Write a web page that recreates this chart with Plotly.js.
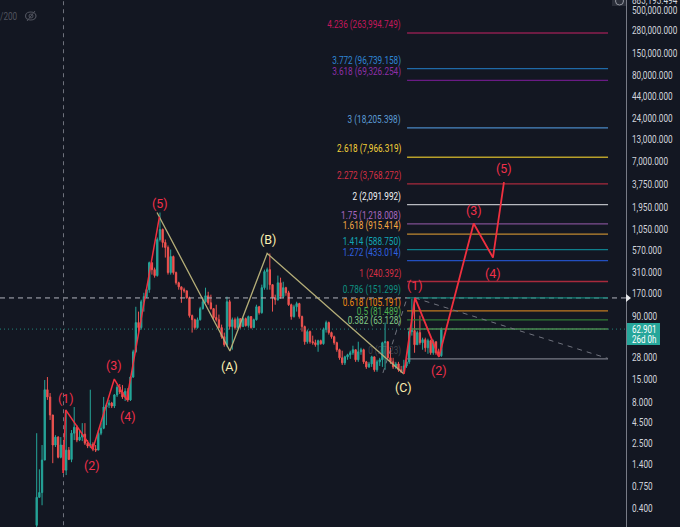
<!DOCTYPE html>
<html><head><meta charset="utf-8">
<script src="https://cdn.plot.ly/plotly-3.0.1.min.js"></script>
<style>html,body{margin:0;padding:0;background:#131722;overflow:hidden}#c{width:680px;height:527px}</style>
</head><body><div id="c"></div>
<script>
// Candles: closing, high and low prices
const closes=[.55,.63,1.57,11.4,9.3,5.6,2.4,3,1.7,2.4,1.18,2.08,1.6,3.35,3.96,2.76,3,3.26,2.53,2.33,2.46,2.14,2.08,3.35,3.85,7,7.4,7.85,7.2,9.86,12.2,10.7,9.3,10.9,8.56,16.3,33.2,75.5,65.6,136,157,191,409,336,284,785,1041,722,627,309,486,309,232,207,191,185,152,92,82,65.6,82,112,136,161,132,112,87,82,65.6,50.8,40.5,136,67.5,82,65.6,84.5,67.5,84.5,69.4,89.5,65.6,82,118,100,202,318,336,220,152,144,232,157,202,175,125,89.5,118,129,89.5,67.5,44.1,58.6,44.1,42.9,40.5,45.4,41.7,62,75.5,57,50.8,42.9,35.2,28,24.3,28.8,30.5,32.3,35.2,26.5,33.2,35.2,25,21.7,23.6,28.8,20,25,26.5,42.9,44.1,28,25,21.7,23.6,20,18.9,22.3,25,58.6,60.3,40.5,57,42.9,46.7,37.2,45.4,32.3,44.1,32.3,29.7,62.901];
const highs=[3.35,1.21,2.4,15,16.3,10.4,5.6,3.17,3.08,3,2.76,6.45,2.27,3.66,7,4.2,3.66,4.45,4.45,2.76,11.4,2.6,2.4,3.66,4.45,9.3,7.85,8.56,8.1,10.1,13,13.4,13,11.9,11.9,16.8,35.2,118,103,144,175,202,421,409,356,830,1680,1070,785,663,592,500,318,239,207,202,185,157,94.7,84.5,87,118,152,202,180,166,112,125,94.7,71.4,57,157,144,87,87,89.5,84.5,87,87,92,87,84.5,125,121,220,336,356,530,220,166,284,268,239,207,185,129,125,136,132,92,69.4,62,60.3,52.3,46.7,46.7,46.7,65.6,79.9,77.7,58.6,52.3,44.1,36.2,34.2,29.7,31.4,34.2,39.4,35.2,44.1,37.2,36.2,25.7,25,29.7,28,26.5,28,44.1,75.5,40.5,37.2,28,25,25,22.3,26.5,26.5,65.6,148,152,60.3,92,49.4,49.4,48,46.7,46.7,44.1,36.2,65.6];
const lows=[.22,.55,.44,1.57,8.56,4.86,1.44,2.27,1.65,1.65,1.09,1.03,1.57,1.48,2.76,2.6,2.68,2.68,2.4,2.2,2.2,2.02,1.97,2.08,3.17,3.75,4.2,6.8,6.8,6.8,9.3,10.1,8.8,8.3,8.1,8.3,15.9,32.3,53.8,62,103,152,175,292,268,276,742,627,472,292,292,292,220,191,132,175,148,87,57,62,63.8,79.9,109,132,125,109,82,77.7,63.8,48,38.3,38.3,62,35.2,62,63.8,63.8,67.5,67.5,65.6,63.8,65.6,79.9,94.7,97,191,191,191,103,125,140,148,152,161,121,82,87,103,84.5,58.6,40.5,41.7,41.7,40.5,38.3,33.2,40.5,40.5,57,53.8,48,40.5,33.2,26.5,22.9,22.9,26.5,27.2,30.5,25,25,30.5,23.6,20.5,21.1,21.7,18.9,18.9,22.3,21.7,20,26.5,23.6,20.5,20.5,18.9,18.3,18.3,21.1,23.6,52.3,32.3,40.5,40.5,35.2,33.2,31.4,30.5,30.5,30.5,28.8,28.8];
const firstOpen=.25;
const barIndex=closes.map((_,i)=>i);
const opens=closes.map((_,i)=>i?closes[i-1]:firstOpen);

// Axis tick values and labels
const tickValues=[500000,280000,150000,80000,44000,24000,13000,7000,3750,1950,1050,570,310,170,90,28,15,8,4.5,2.5,1.4,.75,.4];
const tickLabels=["500,000.000","280,000.000","150,000.000","80,000.000","44,000.000","24,000.000","13,000.000","7,000.000","3,750.000","1,950.000","1,050.000","570.000","310.000","170.000","90.000","28.000","15.000","8.000","4.500","2.500","1.400","0.750","0.400"];

// Fibonacci levels
const fibRatios=["4.236","3.772","3.618","3","2.618","2.272","2","1.75","1.618","1.414","1.272","1","0.786","0.618","0.5","0.382","0"];
const fibPrices=[263994.749,96739.158,69326.254,18205.398,7966.319,3768.272,2091.992,1218.008,915.414,588.75,433.014,240.392,151.299,105.191,81.489,63.128,27.23];
const fibPriceText=["263,994.749","96,739.158","69,326.254","18,205.398","7,966.319","3,768.272","2,091.992","1,218.008","915.414","588.750","433.014","240.392","151.299","105.191","81.489","63.128","27.23"];
const fibLabelColors=["#c2185b","#2f86d6","#8e2fa8","#5b9bd5","#f5d33a","#d62f45","#f2f3f5","#a868c0","#f5a742","#12a5b5","#2f62e0","#d62f45","#0f8f80","#f08a10","#4caf50","#81c784","rgba(120,123,134,.45)"];
const fibLineColors=["#8c1f4f","#1f6aa8","#6a1b85","#4a88c4","#b8a02a","#a82a3c","#b8bac0","#7f4f92","#c08a30","#0f7f8c","#234fc0","#a82a3c","#0f7f74","#c07a20","#2f7a34","#4a8a50","#787b86"];
const fibStart=138.2, fibEnd=213.2;

// Wave paths
const wave1X=[9.81,10.82,20.9,28.96,33.58,45.82];
const wave1Y=[1.09,6.45,2.13,15.4,8.56,1500];
const abcX=[44.9,72.1,86,137.05];
const abcY=[1680,34,530,17.8];
const projX=[137.05,141.15,150.1,163.06,170.26,174.37];
const projY=[17.8,151.3,28.8,1232,472,3950];
const dashTrendX=[141.15,213.2];
const dashTrendY=[151.3,27.5];
const dashRiseX=[129.2,138.2];
const dashRiseY=[18.3,151.3];

// Wave labels
const waveText=["(1)","(2)","(3)","(4)","(5)","(A)","(B)","(C)","(1)","(2)","(3)","(4)","(5)"];
const waveLabelX=[10.93,20.8,28.84,34.07,46,72.1,86.3,137.05,141.15,150.1,163.2,170.26,174.37];
const waveLabelY=[9.03,1.36,22.3,5.4,2170,21.7,785,12.2,213,19.4,1780,300,5830];
const waveIsYellow=[0,0,0,0,0,1,1,1,0,0,0,0,0];

const lastPrice=62.901, crossPrice=151.3, crossBar=10;
const xRange=[-13.69,219.9];
const yRange=[-0.6227,5.8254];

const FONT="Roboto, sans-serif";
const UP="#26a69a", DOWN="#ef5350", RED="#f0303f", YEL="#b5ae78";
const W=626,H=527;
const px=x=>x/W, py=y=>1-y/H;

const traces=[{
  type:"candlestick",x:barIndex,open:opens,high:highs,low:lows,close:closes,
  increasing:{line:{color:UP,width:1},fillcolor:UP},
  decreasing:{line:{color:DOWN,width:1},fillcolor:DOWN},
  whiskerwidth:0,hoverinfo:"skip"
}];
const addLine=(x,y,color,width,dash)=>traces.push({type:"scatter",mode:"lines",x,y,line:{color,width,dash:dash||"solid"},hoverinfo:"skip"});
addLine(xRange,[lastPrice,lastPrice],"rgba(38,166,154,.75)",1,"1px,3px");
addLine(xRange,[crossPrice,crossPrice],"#b2b5be",1,"5px,4px");
addLine([crossBar,crossBar],[.2,800000],"#70737e",1,"4px,4px");
fibPrices.forEach((p,i)=>addLine([fibStart,fibEnd],[p,p],fibLineColors[i],1.3));
addLine(dashTrendX,dashTrendY,"#70737e",1,"5px,5px");
addLine(dashRiseX,dashRiseY,"#70737e",1,"5px,5px");
addLine(abcX,abcY,YEL,1.3);
addLine(wave1X,wave1Y,RED,1.5);
addLine(projX,projY,RED,1.8);

const annotations=[];
fibPrices.forEach((p,i)=>annotations.push({
  x:136.7,y:Math.log10(p),xref:"x",yref:"y",yshift:8,xanchor:"right",yanchor:"middle",showarrow:false,
  text:fibRatios[i]+" ("+fibPriceText[i]+")",font:{family:FONT,size:10,color:fibLabelColors[i]}
}));
waveText.forEach((t,i)=>annotations.push({
  x:waveLabelX[i],y:Math.log10(waveLabelY[i]),xref:"x",yref:"y",xanchor:"center",yanchor:"middle",showarrow:false,
  text:t,font:{family:FONT,size:12.5,color:waveIsYellow[i]?"#fdf0b0":"#f0304a"}
}));
const pxText=(x,y,text,size,color,anchor)=>annotations.push({
  x:px(x),y:py(y),xref:"paper",yref:"paper",xanchor:anchor||"left",yanchor:"middle",showarrow:false,text,
  font:{family:FONT,size,color}
});
pxText(630,329,"62.901",10,"#ffffff");
pxText(630,339,"26d 0h",10,"#ffffff");
pxText(630,0,"883,193.494",10,"#d1d4dc");
pxText(-2,16,"/200",10,"#50535e");

const shapes=[
  {type:"rect",xref:"paper",yref:"paper",x0:px(627),x1:px(660),y0:py(345),y1:py(323),fillcolor:UP,line:{width:0},layer:"below"},
  {type:"path",xref:"paper",yref:"paper",path:`M ${px(626)} ${py(294)} L ${px(631)} ${py(298)} L ${px(626)} ${py(302)} Z`,fillcolor:"#e8e9ec",line:{width:0}},
  {type:"rect",xref:"paper",yref:"paper",x0:px(612),x1:px(626),y0:py(6),y1:py(0),fillcolor:"#2a2e39",line:{width:0}},
  {type:"circle",xref:"paper",yref:"paper",x0:px(615.5),x1:px(623.5),y0:py(5),y1:py(-3),line:{color:"#9598a1",width:1}},
  {type:"circle",xref:"paper",yref:"paper",x0:px(25.5),x1:px(36),y0:py(20),y1:py(12),line:{color:"#50535e",width:1.2}},
  {type:"circle",xref:"paper",yref:"paper",x0:px(29),x1:px(33),y0:py(18),y1:py(14),line:{color:"#50535e",width:1}},
  {type:"line",xref:"paper",yref:"paper",x0:px(27),x1:px(35),y0:py(21),y1:py(11),line:{color:"#50535e",width:1}}
];

// The reference's small text is horizontally condensed: squeeze it, keeping its anchor edge in place.
function squeeze(el,factor,edge){
  const b0=el.getBBox();
  el.setAttribute("lengthAdjust","spacingAndGlyphs");
  el.setAttribute("textLength",el.getComputedTextLength()*factor);
  const b1=el.getBBox();
  const diff=edge==="right"?(b0.x+b0.width)-(b1.x+b1.width):b0.x-b1.x;
  el.setAttribute("x",parseFloat(el.getAttribute("x")||0)+diff);
}
Plotly.newPlot("c",traces,{
  width:680,height:527,margin:{l:0,r:54,t:0,b:0},
  paper_bgcolor:"#131722",plot_bgcolor:"#131722",showlegend:false,dragmode:false,hovermode:false,
  xaxis:{range:xRange,showgrid:false,zeroline:false,showticklabels:false,ticks:"",rangeslider:{visible:false},showline:false},
  yaxis:{type:"log",range:yRange,side:"right",tickmode:"array",tickvals:tickValues,ticktext:tickLabels,
    showgrid:false,zeroline:false,showline:true,linecolor:"#787b86",linewidth:1,ticks:"outside",ticklen:3,tickcolor:"rgba(0,0,0,0)",
    tickfont:{family:FONT,size:10,color:"#d1d4dc"}},
  annotations,shapes
},{staticPlot:true,displayModeBar:false}).then(()=>{
  document.querySelectorAll("#c .ytick text").forEach(t=>squeeze(t,.82,"left"));
  document.querySelectorAll("#c .annotation-text").forEach(t=>{
    const s=t.textContent;
    if(/^\([0-9A-C]\)$/.test(s)) return;
    const isFib=/^[0-9.]+ \(/.test(s);
    squeeze(t,s==="62.901"||s==="26d 0h"?.8:.82,isFib?"right":"left");
  });
});
</script></body></html>
